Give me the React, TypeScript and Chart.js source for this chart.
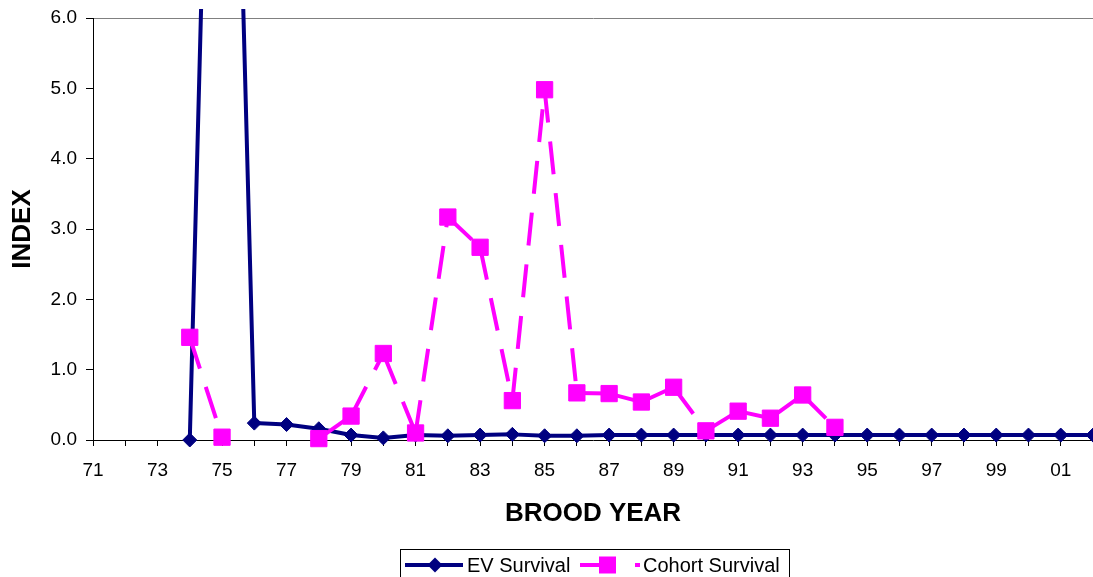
import { useEffect, useRef } from 'react';
import { Chart, registerables } from 'chart.js';

Chart.register(...registerables);

const categories = [
  '71', '72', '73', '74', '75', '76', '77', '78', '79', '80', '81', '82', '83', '84', '85', '86',
  '87', '88', '89', '90', '91', '92', '93', '94', '95', '96', '97', '98', '99', '00', '01', '02',
];

const evSurvival: (number | null)[] = [
  null, null, null, 0, 17.5, 0.24, 0.22, 0.16, 0.07, 0.03, 0.07, 0.06, 0.07, 0.08, 0.06, 0.06,
  0.07, 0.07, 0.07, 0.07, 0.07, 0.07, 0.07, 0.07, 0.07, 0.07, 0.07, 0.07, 0.07, 0.07, 0.07, 0.07,
];

const cohortSurvival: (number | null)[] = [
  null, null, null, 1.46, 0.04, null, null, 0.02, 0.34, 1.23, 0.1, 3.17, 2.74, 0.56, 4.98, 0.67,
  0.66, 0.54, 0.75, 0.13, 0.41, 0.31, 0.64, 0.18, null, null, null, null, null, null, null, null,
];

const seriesNames = ['EV Survival', 'Cohort Survival'];
const yTicks = [0, 1, 2, 3, 4, 5, 6];

const NAVY = '#000080';
const MAGENTA = '#FF00FF';
const FONT = '"Liberation Sans", Arial, sans-serif';
const DASH = [33, 19];
const DASH_PERIOD = 52;

const legendPlugin = {
  id: 'customLegend',
  afterDraw(chart: any) {
    const ctx = chart.ctx as CanvasRenderingContext2D;
    ctx.save();
    ctx.strokeStyle = '#000';
    ctx.lineWidth = 1;
    ctx.strokeRect(400.5, 549.5, 389, 40);
    const cy = 565;
    ctx.strokeStyle = NAVY;
    ctx.lineWidth = 4;
    ctx.beginPath();
    ctx.moveTo(405, cy);
    ctx.lineTo(463, cy);
    ctx.stroke();
    ctx.fillStyle = NAVY;
    ctx.beginPath();
    ctx.moveTo(435 - 7.5, cy);
    ctx.lineTo(435, cy - 7.5);
    ctx.lineTo(435 + 7.5, cy);
    ctx.lineTo(435, cy + 7.5);
    ctx.closePath();
    ctx.fill();
    ctx.strokeStyle = MAGENTA;
    ctx.beginPath();
    ctx.moveTo(580, cy);
    ctx.lineTo(612, cy);
    ctx.moveTo(635, cy);
    ctx.lineTo(640, cy);
    ctx.stroke();
    ctx.fillStyle = MAGENTA;
    ctx.fillRect(599, cy - 8.5, 17, 17);
    ctx.fillStyle = '#000';
    ctx.font = `20px ${FONT}`;
    ctx.textBaseline = 'middle';
    ctx.textAlign = 'left';
    ctx.fillText(seriesNames[0], 467, cy + 1);
    ctx.fillText(seriesNames[1], 643, cy + 1);
    ctx.restore();
  },
};

export default function App() {
  const canvasRef = useRef<HTMLCanvasElement | null>(null);

  useEffect(() => {
    if (!canvasRef.current) return;
    const chart = new Chart(canvasRef.current, {
      type: 'line',
      data: {
        labels: categories,
        datasets: [
          {
            label: seriesNames[0],
            data: evSurvival,
            borderColor: NAVY,
            backgroundColor: NAVY,
            borderWidth: 4,
            borderJoinStyle: 'round',
            pointStyle: 'rectRot',
            pointRadius: 7,
            pointBorderWidth: 1,
            pointBorderColor: NAVY,
            pointBackgroundColor: NAVY,
            tension: 0,
            spanGaps: false,
            order: 2,
            clip: { left: 10, top: 9, right: 10, bottom: 10 } as any,
          },
          {
            label: seriesNames[1],
            data: cohortSurvival,
            borderColor: MAGENTA,
            backgroundColor: MAGENTA,
            borderWidth: 4,
            borderDash: DASH,
            borderJoinStyle: 'round',
            pointStyle: 'rect',
            pointRadius: 11.5,
            pointBorderWidth: 1,
            pointBorderColor: MAGENTA,
            pointBackgroundColor: MAGENTA,
            tension: 0,
            spanGaps: false,
            order: 1,
            segment: {
              borderDash: () => DASH,
              borderDashOffset: (c: any) => (c.p0DataIndex % 2 === 0 ? 0 : DASH_PERIOD),
            },
            clip: { left: 10, top: 9, right: 10, bottom: 10 } as any,
          },
        ],
      },
      options: {
        animation: false,
        responsive: false,
        devicePixelRatio: 1,
        layout: { autoPadding: false, padding: { top: 18, right: 0, left: 0, bottom: 0 } },
        plugins: {
          legend: { display: false },
          tooltip: { enabled: false },
        },
        scales: {
          x: {
            type: 'category',
            offset: false,
            grid: {
              drawOnChartArea: false,
              drawTicks: true,
              tickLength: 6,
              tickColor: '#000',
            },
            border: { color: '#000', width: 1 },
            ticks: {
              autoSkip: false,
              maxRotation: 0,
              minRotation: 0,
              color: '#000',
              padding: 13,
              font: { family: FONT, size: 19 },
              callback: (_v: any, i: number) => (i % 2 === 0 ? categories[i] : ''),
            },
            title: {
              display: true,
              text: 'BROOD YEAR',
              color: '#000',
              font: { family: FONT, size: 26, weight: 'bold' },
              padding: { top: 0, bottom: 48 },
            },
            afterFit: (s: any) => {
              s.height = 137;
              s.paddingLeft = 0;
              s.paddingRight = 0;
            },
          },
          y: {
            min: 0,
            max: 6,
            grid: {
              color: (c: any) => (c.tick && c.tick.value === 6 ? '#808080' : 'rgba(0,0,0,0)'),
              tickColor: '#000',
              tickLength: 7,
              drawTicks: true,
            },
            border: { color: '#000', width: 1 },
            afterBuildTicks: (s: any) => {
              s.ticks = yTicks.map((v) => ({ value: v }));
            },
            ticks: {
              color: '#000',
              padding: 9,
              font: { family: FONT, size: 19 },
              callback: (v: any) => Number(v).toFixed(1),
            },
            title: {
              display: true,
              text: 'INDEX',
              color: '#000',
              font: { family: FONT, size: 26, weight: 'bold' },
              padding: { top: 7, bottom: 0 },
            },
            afterFit: (s: any) => {
              s.width = 93;
              s.paddingTop = 0;
              s.paddingBottom = 0;
            },
          },
        },
      },
      plugins: [legendPlugin],
    });
    return () => chart.destroy();
  }, []);

  return (
    <div style={{ position: 'fixed', left: 0, top: 0, width: 1093, height: 577, background: '#fff' }}>
      <canvas ref={canvasRef} width={1093} height={577} style={{ display: 'block' }} />
    </div>
  );
}
